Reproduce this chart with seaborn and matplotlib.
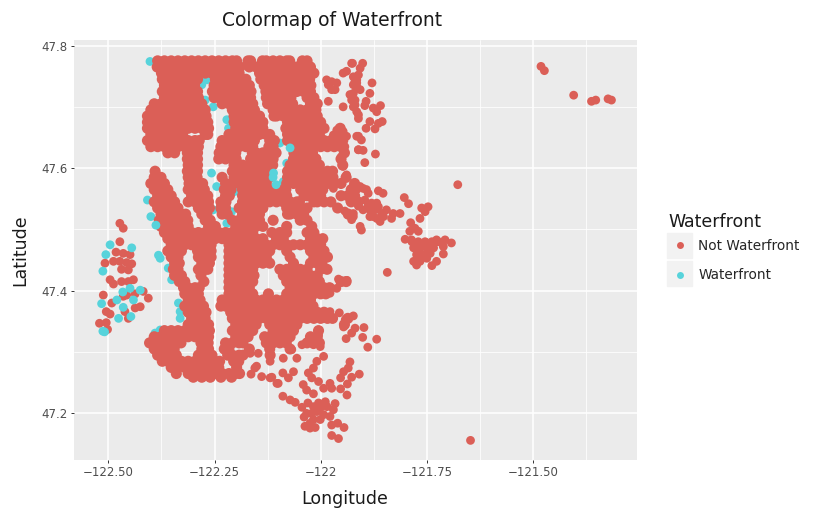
import matplotlib
matplotlib.use('Agg')
import matplotlib.pyplot as plt
from matplotlib.lines import Line2D
from matplotlib.patches import Rectangle
from matplotlib.ticker import FixedLocator
import pandas as pd
import seaborn as sns

#Colours and labels
red = '#db5f57'
teal = '#57d3db'
labels = ['Not Waterfront', 'Waterfront']
x_ticks = [-122.5, -122.25, -122, -121.75, -121.5]
x_tick_labels = ['\u2212122.50', '\u2212122.25', '\u2212122', '\u2212121.75', '\u2212121.50']
y_ticks = [47.2, 47.4, 47.6, 47.8]
y_tick_labels = ['47.2', '47.4', '47.6', '47.8']

#The solid mass can't be read house by house, these rows are estimates that fill the same area
row_lat = [47.775, 47.765, 47.755, 47.745, 47.735, 47.725, 47.715, 47.705, 47.695, 47.685,
           47.675, 47.665, 47.655, 47.645, 47.635, 47.625, 47.615, 47.605, 47.595, 47.585,
           47.575, 47.565, 47.555, 47.545, 47.535, 47.525, 47.515, 47.505, 47.495, 47.485,
           47.475, 47.465, 47.455, 47.445, 47.435, 47.425, 47.415, 47.405, 47.395, 47.385,
           47.375, 47.365, 47.355, 47.345, 47.335, 47.325, 47.315, 47.305, 47.295, 47.285,
           47.275, 47.265, 47.259]
row_lon = [
    [-122.384,-122.368,-122.352,-122.336,-122.32,-122.304,-122.288,-122.272,-122.256,-122.24,-122.224,-122.208,-122.198,-122.171,-122.165,-122.137,-122.128,-122.112,-122.096,-122.08,-122.073,-122.043,-122.032],
    [-122.385,-122.376,-122.36,-122.344,-122.328,-122.312,-122.296,-122.28,-122.264,-122.248,-122.232,-122.216,-122.2,-122.19,-122.168,-122.152,-122.136,-122.12,-122.104,-122.088,-122.072,-122.056,-122.04,-122.024],
    [-122.375,-122.368,-122.352,-122.336,-122.32,-122.304,-122.288,-122.272,-122.256,-122.24,-122.224,-122.208,-122.192,-122.144,-122.128,-122.112,-122.096,-122.08,-122.064,-122.048,-122.032,-122.016],
    [-122.373,-122.36,-122.344,-122.328,-122.312,-122.296,-122.29,-122.248,-122.232,-122.216,-122.2,-122.184,-122.176,-122.141,-122.136,-122.12,-122.104,-122.088,-122.072,-122.056,-122.04,-122.026],
    [-122.368,-122.352,-122.336,-122.32,-122.304,-122.297,-122.251,-122.24,-122.224,-122.208,-122.192,-122.176,-122.168,-122.133,-122.128,-122.112,-122.096,-122.08,-122.064,-122.048,-122.032,-122.023],
    [-122.373,-122.36,-122.344,-122.328,-122.312,-122.296,-122.29,-122.255,-122.248,-122.232,-122.216,-122.2,-122.184,-122.168,-122.164,-122.129,-122.12,-122.104,-122.088,-122.072,-122.056,-122.04,-122.024],
    [-122.368,-122.352,-122.336,-122.32,-122.304,-122.288,-122.251,-122.24,-122.224,-122.208,-122.192,-122.176,-122.165,-122.128,-122.112,-122.096,-122.08,-122.07,-122.032,-122.016],
    [-122.392,-122.376,-122.36,-122.344,-122.328,-122.312,-122.296,-122.28,-122.232,-122.216,-122.2,-122.184,-122.168,-122.16,-122.125,-122.12,-122.104,-122.088,-122.072,-122.066,-122.024,-122.008],
    [-122.4,-122.384,-122.368,-122.352,-122.336,-122.32,-122.304,-122.288,-122.272,-122.208,-122.192,-122.176,-122.16,-122.156,-122.112,-122.096,-122.089,-122.064,-122.048,-122.032,-122.016,-122.011],
    [-122.408,-122.392,-122.376,-122.36,-122.344,-122.328,-122.312,-122.296,-122.28,-122.27,-122.204,-122.2,-122.184,-122.168,-122.152,-122.144,-122.11,-122.104,-122.088,-122.072,-122.056,-122.04,-122.024,-122.008],
    [-122.408,-122.4,-122.384,-122.368,-122.352,-122.336,-122.32,-122.304,-122.288,-122.272,-122.266,-122.204,-122.192,-122.176,-122.16,-122.144,-122.136,-122.078,-122.064,-122.048,-122.032,-122.016,-122.0],
    [-122.408,-122.392,-122.376,-122.36,-122.344,-122.328,-122.312,-122.296,-122.28,-122.264,-122.2,-122.184,-122.168,-122.152,-122.136,-122.082,-122.072,-122.056,-122.04,-122.024,-122.008,-121.992,-121.954],
    [-122.4,-122.384,-122.368,-122.352,-122.336,-122.325,-122.272,-122.266,-122.216,-122.208,-122.192,-122.176,-122.16,-122.144,-122.128,-122.12,-122.078,-122.064,-122.048,-122.032,-122.016,-122.003,-121.96,-121.952],
    [-122.408,-122.392,-122.376,-122.36,-122.344,-122.328,-122.312,-122.296,-122.286,-122.232,-122.216,-122.2,-122.184,-122.168,-122.156,-122.12,-122.109,-122.078,-122.072,-122.056,-122.04,-122.024,-122.008,-121.992,-121.976,-121.96,-121.948],
    [-122.4,-122.384,-122.368,-122.352,-122.336,-122.32,-122.304,-122.288,-122.235,-122.224,-122.208,-122.192,-122.176,-122.16,-122.122,-122.112,-122.055,-122.048,-122.032,-122.016,-122.0,-121.984,-121.968,-121.952],
    [-122.36,-122.344,-122.314,-122.312,-122.296,-122.29,-122.239,-122.232,-122.216,-122.2,-122.161,-122.152,-122.136,-122.12,-122.105,-122.063,-122.056,-122.04,-122.024,-122.019,-121.944],
    [-122.314,-122.304,-122.29,-122.24,-122.224,-122.208,-122.199,-122.165,-122.16,-122.144,-122.128,-122.112,-122.064,-122.048,-122.032,-122.016,-122.011,-121.952],
    [-122.312,-122.296,-122.29,-122.204,-122.2,-122.184,-122.168,-122.152,-122.136,-122.12,-122.113,-122.072,-122.056,-122.04,-122.024,-122.008,-122.003,-121.948],
    [-122.39,-122.314,-122.304,-122.29,-122.208,-122.192,-122.176,-122.16,-122.144,-122.128,-122.078,-122.064,-122.048,-122.032,-122.016,-122.0,-121.984,-121.972],
    [-122.392,-122.376,-122.312,-122.291,-122.232,-122.204,-122.2,-122.184,-122.168,-122.152,-122.136,-122.12,-122.078,-122.072,-122.056,-122.04,-122.024,-122.008,-121.992,-121.976,-121.971,-121.94],
    [-122.4,-122.384,-122.368,-122.31,-122.304,-122.288,-122.278,-122.224,-122.208,-122.192,-122.176,-122.16,-122.144,-122.128,-122.08,-122.064,-122.048,-122.032,-122.016,-122.0,-121.984,-121.968,-121.952,-121.92],
    [-122.392,-122.376,-122.36,-122.312,-122.296,-122.28,-122.274,-122.227,-122.225,-122.216,-122.211,-122.184,-122.168,-122.152,-122.136,-122.12,-122.104,-122.088,-122.082,-122.047,-122.04,-122.024,-122.008,-121.995,-121.928],
    [-122.384,-122.368,-122.352,-122.304,-122.288,-122.272,-122.266,-122.224,-122.215,-122.184,-122.176,-122.16,-122.144,-122.128,-122.112,-122.096,-122.08,-122.039,-122.032,-122.016,-122.0,-121.952,-121.936,-121.92],
    [-122.392,-122.376,-122.36,-122.344,-122.312,-122.296,-122.28,-122.264,-122.235,-122.232,-122.223,-122.184,-122.168,-122.152,-122.136,-122.12,-122.104,-122.088,-122.072,-122.056,-122.05,-122.016,-122.008,-121.992,-121.976,-121.928,-121.912],
    [-122.384,-122.368,-122.352,-122.336,-122.288,-122.272,-122.262,-122.235,-122.224,-122.192,-122.176,-122.16,-122.144,-122.136,-122.08,-122.064,-122.048,-122.032,-121.96],
    [-122.376,-122.36,-122.344,-122.328,-122.318,-122.28,-122.268,-122.232,-122.22,-122.184,-122.168,-122.152,-122.144,-122.078,-122.072,-122.056,-122.04,-121.935],
    [-122.38,-122.368,-122.352,-122.336,-122.32,-122.313,-122.272,-122.26,-122.208,-122.192,-122.176,-122.16,-122.144,-122.112,-122.048,-122.032],
    [-122.376,-122.36,-122.344,-122.328,-122.312,-122.264,-122.248,-122.2,-122.184,-122.168,-122.152,-122.136,-122.08,-122.021],
    [-122.368,-122.352,-122.336,-122.32,-122.304,-122.288,-122.272,-122.256,-122.24,-122.224,-122.208,-122.192,-122.176,-122.16,-122.115,-122.096,-122.08,-122.032,-122.016],
    [-122.36,-122.344,-122.328,-122.312,-122.296,-122.28,-122.264,-122.248,-122.232,-122.216,-122.2,-122.184,-122.168,-122.152,-122.136,-122.104,-122.088,-122.024,-122.008,-121.995],
    [-122.352,-122.336,-122.32,-122.304,-122.288,-122.272,-122.258,-122.216,-122.208,-122.192,-122.176,-122.16,-122.144,-122.128,-122.112,-122.096,-122.08,-122.064,-122.048,-122.032,-122.016,-122.0],
    [-122.36,-122.344,-122.328,-122.29,-122.28,-122.264,-122.258,-122.216,-122.2,-122.184,-122.168,-122.152,-122.136,-122.12,-122.08,-122.024,-122.008,-121.992],
    [-122.352,-122.336,-122.288,-122.272,-122.258,-122.216,-122.208,-122.192,-122.176,-122.16,-122.144,-122.128,-122.072,-122.016,-122.0,-121.984],
    [-122.344,-122.333,-122.28,-122.268,-122.262,-122.216,-122.2,-122.184,-122.168,-122.152,-122.136,-122.12,-122.064,-122.024,-122.008,-121.997],
    [-122.347,-122.336,-122.288,-122.272,-122.266,-122.216,-122.208,-122.192,-122.176,-122.16,-122.096,-122.08,-122.064,-122.048,-122.032,-122.0,-121.985],
    [-122.344,-122.328,-122.282,-122.216,-122.2,-122.184,-122.168,-122.157,-122.088,-122.072,-122.056,-122.04,-122.024,-122.008],
    [-122.333,-122.32,-122.275,-122.216,-122.208,-122.192,-122.176,-122.16,-122.08,-122.064,-122.048,-122.032,-122.016,-122.003,-121.952,-121.94],
    [-122.323,-122.312,-122.296,-122.286,-122.216,-122.2,-122.184,-122.168,-122.072,-122.056,-122.04,-122.024,-122.008,-121.992,-121.979],
    [-122.32,-122.304,-122.288,-122.216,-122.208,-122.192,-122.176,-122.16,-122.123,-122.08,-122.064,-122.048,-122.032,-122.016,-122.0,-121.988],
    [-122.312,-122.296,-122.284,-122.232,-122.216,-122.2,-122.184,-122.168,-122.152,-122.136,-122.12,-122.104,-122.088,-122.072,-122.056,-122.04,-122.024],
    [-122.32,-122.304,-122.288,-122.276,-122.235,-122.224,-122.208,-122.192,-122.176,-122.16,-122.144,-122.128,-122.112,-122.096,-122.08,-122.064,-122.048,-122.032,-122.018],
    [-122.312,-122.296,-122.28,-122.27,-122.212,-122.2,-122.184,-122.168,-122.152,-122.136,-122.12,-122.104,-122.088,-122.072,-122.056,-122.04,-122.024,-122.008,-121.992],
    [-122.304,-122.288,-122.272,-122.208,-122.192,-122.176,-122.16,-122.144,-122.128,-122.112,-122.096,-122.08,-122.064,-122.048,-122.032,-122.016,-122.0,-121.984,-121.972,-121.936],
    [-122.312,-122.296,-122.28,-122.264,-122.2,-122.184,-122.168,-122.152,-122.12,-122.104,-122.088,-122.072,-122.056,-121.944],
    [-122.368,-122.352,-122.336,-122.32,-122.304,-122.288,-122.272,-122.262,-122.208,-122.192,-122.176,-122.16,-122.112,-122.096,-122.08,-122.064,-122.005],
    [-122.392,-122.376,-122.36,-122.344,-122.328,-122.312,-122.296,-122.28,-122.264,-122.2,-122.184,-122.171,-122.132,-122.12,-122.104,-122.088,-122.072,-122.024,-122.008],
    [-122.403,-122.384,-122.368,-122.352,-122.336,-122.329,-122.282,-122.272,-122.265,-122.224,-122.208,-122.192,-122.183,-122.128,-122.112,-122.096,-122.081,-122.032,-122.016,-122.003],
    [-122.392,-122.376,-122.36,-122.345,-122.28,-122.264,-122.227,-122.216,-122.168,-122.12,-122.072],
    [-122.384,-122.368,-122.352,-122.34,-122.288,-122.272,-122.256,-122.219,-122.208,-122.192,-122.183,-122.119],
    [-122.373,-122.36,-122.344,-122.328,-122.312,-122.296,-122.28,-122.264,-122.248,-122.238,-122.205,-122.193],
    [-122.352,-122.336,-122.32,-122.304,-122.288,-122.272,-122.256,-122.24,-122.198],
    [-122.34,-122.312,-122.296,-122.28,-122.264,-122.248,-122.232,-122.216,-122.2,-122.191],
    [-122.3,-122.28,-122.26,-122.235,-122.21],
]

#Separate red points north east and south east of the mass, longitude then latitude
east_lon = [-121.901,-121.907,-121.925,-121.911,-121.919,-121.879,-121.915,-121.907,-121.884,-121.927,-121.919,-121.893,-121.896,-121.923,-121.915,-121.911,-121.876,-121.868,-121.859,-121.884,-121.864,-121.855,-121.893,-121.872,-121.911,-121.904,-121.911,-121.9,-121.871,-121.896,
            -121.677,-121.864,-121.853,-121.803,-121.793,-121.923,-121.907,-121.892,-121.88,-121.868,-121.9,-121.884,-121.864,-121.845,-121.829,-121.813,-121.876,-121.86,-121.833,-121.911,-121.927,-121.923,-121.927,-121.904,-121.907,-121.896,-121.888,-121.872,-121.856,-121.884,-121.868,-121.852,-121.9,-121.888,
            -121.762,-121.747,-121.754,-121.766,-121.788,-121.778,-121.77,-121.79,-121.801,-121.786,-121.77,-121.75,-121.727,-121.707,-121.692,-121.711,-121.785,-121.77,-121.754,-121.738,-121.723,-121.781,-121.766,-121.75,-121.734,-121.711,-121.774,-121.758,-121.742,-121.781,-121.766,-121.75,-121.774,-121.738,-121.727,-121.843,-121.647,
            -121.481,-121.473,-121.404,-121.362,-121.352,-121.323,-121.315,
            -121.927,-121.939,-121.947,-121.915,-121.974,-121.986,-121.962,-121.982,-121.966,-121.974,-121.982,-121.947,-121.923,-121.931,-121.919,-121.911,-121.915,-121.923,-121.923,-121.927,-121.962,-121.947,-121.97,-121.939,-121.915,-121.943,-121.911,-121.951,-121.947,-121.939,-121.951,-121.97,-121.923,-121.915,-121.931,-121.943,-121.923,-121.911]
east_lat = [47.771,47.763,47.771,47.752,47.741,47.739,47.733,47.728,47.722,47.717,47.711,47.709,47.702,47.7,47.692,47.681,47.698,47.692,47.702,47.676,47.673,47.676,47.665,47.664,47.652,47.646,47.63,47.629,47.623,47.609,
            47.573,47.563,47.559,47.552,47.542,47.57,47.57,47.565,47.543,47.543,47.532,47.532,47.537,47.532,47.526,47.526,47.521,47.513,47.518,47.538,47.546,47.526,47.516,47.499,47.505,47.548,47.54,47.532,47.526,47.521,47.518,47.521,47.567,47.559,
            47.535,47.537,47.529,47.518,47.511,47.502,47.497,47.497,47.484,47.483,47.478,47.478,47.483,47.483,47.478,47.472,47.48,47.48,47.48,47.48,47.48,47.47,47.47,47.47,47.47,47.46,47.459,47.459,47.461,47.448,47.448,47.453,47.442,47.441,47.448,47.43,47.156,
            47.766,47.759,47.719,47.709,47.711,47.713,47.711,
            47.771,47.758,47.755,47.744,47.741,47.744,47.739,47.736,47.728,47.728,47.709,47.7,47.722,47.72,47.703,47.687,47.739,47.736,47.749,47.711,47.662,47.66,47.654,47.652,47.652,47.635,47.63,47.619,47.603,47.589,47.575,47.567,47.57,47.565,47.546,47.53,47.521,47.54]

south_lon = [-121.868,-121.889,-121.898,-121.919,-121.927,-121.901,-121.94,-121.923,-121.942,-121.946,-121.956,-121.978,-121.989,-121.938,-121.958,-121.962,-121.978,-122.005,-122.017,-122.001,-122.044,-121.993,-122.056,-122.088,-122.068,-121.931,-121.935,-121.946,-121.927,-121.953,-121.909,-121.937,-121.953,-121.938,-121.978,-121.974,-121.993,-122.005,-122.017,-122.009,-122.029,-122.021,-122.041,-122.033,-122.017,-122.064,-122.076,-122.089,-122.103,-122.115,-122.089,-122.072,-122.06,-122.044,-122.03,-122.039,-122.005,-121.989,-121.966,-121.97,-122.001,-122.021,-121.993,-121.978,-122.017,-121.974,-121.96,-121.945,-122.037,-122.025,-122.013,-121.974,-121.958,-122.017,-122.009,-121.985,-122.033,-122.001,-122.025,-122.164,-122.151,-122.139,-122.119,-122.1,-122.119,-122.166,-122.147,-122.155]
south_lat = [47.321,47.308,47.34,47.339,47.331,47.324,47.322,47.359,47.353,47.341,47.364,47.366,47.355,47.417,47.419,47.404,47.396,47.328,47.312,47.309,47.312,47.293,47.29,47.29,47.304,47.284,47.274,47.268,47.259,47.258,47.264,47.248,47.24,47.23,47.249,47.241,47.241,47.252,47.274,47.285,47.266,47.258,47.247,47.238,47.232,47.268,47.258,47.266,47.249,47.259,47.228,47.222,47.218,47.21,47.217,47.194,47.217,47.219,47.216,47.206,47.209,47.2,47.198,47.195,47.19,47.181,47.184,47.177,47.179,47.176,47.177,47.164,47.159,47.211,47.203,47.211,47.2,47.19,47.184,47.264,47.277,47.26,47.258,47.249,47.285,47.298,47.298,47.274]

#Vashon island
island_lon = [-122.473,-122.482,-122.465,-122.449,-122.508,-122.488,-122.473,-122.457,-122.445,-122.469,-122.453,-122.496,-122.488,-122.469,-122.453,-122.441,-122.512,-122.465,-122.437,-122.418,-122.406,-122.492,-122.457,-122.437,-122.425,-122.505,-122.496,-122.461,-122.453,-122.521,-122.505,-122.502,-122.473,-122.465]
island_lat = [47.48,47.463,47.461,47.459,47.445,47.448,47.448,47.446,47.444,47.435,47.434,47.418,47.411,47.415,47.415,47.418,47.393,47.391,47.395,47.399,47.388,47.38,47.393,47.372,47.374,47.366,47.362,47.366,47.355,47.347,47.348,47.337,47.51,47.502]

#Waterfront points hidden behind the red ones
shore_lon = [-122.402,-122.268,-122.28,-122.272,-122.253,-122.221,-122.217,-122.257,-122.245,-122.202,-122.21,-122.253,-122.221,-122.08,-122.096,-122.088,-122.408,-122.4,-122.359,-122.351,-122.335,-122.331,-122.331,-122.378,-122.39]
shore_lat = [47.774,47.744,47.736,47.711,47.7,47.679,47.665,47.592,47.57,47.562,47.529,47.532,47.51,47.608,47.641,47.578,47.548,47.521,47.437,47.418,47.38,47.366,47.355,47.336,47.331]

#Waterfront points drawn on top
front_lon = [-122.072,-122.111,-122.105,-122.388,-122.496,-122.445,-122.506,-122.513,-122.378,-122.466,-122.449,-122.425,-122.48,-122.516,-122.441,-122.465,-122.476,-122.447,-122.509,-122.513,-122.382,-122.112]
front_lat = [47.633,47.592,47.573,47.507,47.475,47.47,47.459,47.432,47.453,47.398,47.404,47.401,47.385,47.379,47.385,47.373,47.355,47.358,47.333,47.334,47.458,47.585]

#Building the table, order matters since later points cover earlier ones
mass_lon = []
mass_lat = []
for lat, lons in zip(row_lat, row_lon):
    mass_lon += lons
    mass_lat += [lat] * len(lons)

loose_lon = east_lon + south_lon + island_lon
loose_lat = east_lat + south_lat + island_lat

df = pd.DataFrame({
    'Longitude': shore_lon + mass_lon + loose_lon + front_lon,
    'Latitude': shore_lat + mass_lat + loose_lat + front_lat,
    'Waterfront': [labels[1]] * len(shore_lon) + [labels[0]] * (len(mass_lon) + len(loose_lon)) + [labels[1]] * len(front_lon),
    'Kind': ['single'] * len(shore_lon) + ['mass'] * len(mass_lon) + ['single'] * (len(loose_lon) + len(front_lon)),
})

sns.set_theme(style='darkgrid', rc={'axes.facecolor': '#ebebeb', 'font.family': ['DejaVu Sans']})

fig = plt.figure(figsize=(8.32, 5.18), dpi=100)
ax = fig.add_axes([74 / 832, 1 - 460 / 518, 562.5 / 832, 420 / 518])

#Mass points are a bit bigger so that the estimated rows close up into a solid area
sns.scatterplot(data=df, x='Longitude', y='Latitude', hue='Waterfront', hue_order=labels,
                palette=[red, teal], size='Kind', sizes={'single': 40, 'mass': 64},
                linewidth=0, legend=False, ax=ax, zorder=3)

ax.set_xlim(-122.581, -121.256)
ax.set_ylim(47.124, 47.809)

ax.set_xticks(x_ticks)
ax.set_xticklabels(x_tick_labels)
ax.set_yticks(y_ticks)
ax.set_yticklabels(y_tick_labels)
ax.xaxis.set_minor_locator(FixedLocator([-122.375, -122.125, -121.875, -121.625, -121.375]))
ax.yaxis.set_minor_locator(FixedLocator([47.3, 47.5, 47.7]))
ax.grid(which='major', color='white', linewidth=1.1)
ax.grid(which='minor', color='white', linewidth=0.55)
ax.tick_params(which='major', length=2.5, width=0.7, color='#333333', labelcolor='#4d4d4d', labelsize=8.5, pad=2, bottom=True, left=True)
ax.tick_params(which='minor', length=0)
for spine in ax.spines.values():
    spine.set_visible(False)

ax.set_title('Colormap of Waterfront', fontsize=13.5, color='#1a1a1a', pad=10, x=0.459)
ax.set_xlabel('Longitude', fontsize=12.5, color='#1a1a1a', labelpad=8, x=0.482)
ax.set_ylabel('Latitude', fontsize=12.5, color='#1a1a1a', labelpad=9)

#Grey boxes behind the legend keys
for top in [233, 261]:
    fig.add_artist(Rectangle((667 / 832, 1 - (top + 25) / 518), 25 / 832, 25 / 518, color='#f2f2f2', zorder=-1))

handles = [Line2D([], [], linestyle='', marker='o', markersize=5, markeredgewidth=0, color=c) for c in [red, teal]]
ax.legend(handles, labels, frameon=False, loc='upper left',
          bbox_to_anchor=(666.5 / 832, 1 - 238.5 / 518), bbox_transform=fig.transFigure,
          borderaxespad=0, fontsize=9.8, labelspacing=1.17, handletextpad=0.33, borderpad=0)
fig.text(668 / 832, 1 - 222 / 518, 'Waterfront', fontsize=12.5, color='#1a1a1a', va='center', ha='left')

fig.savefig('out.png', dpi=100)
